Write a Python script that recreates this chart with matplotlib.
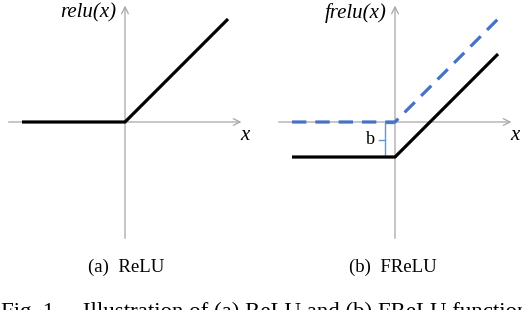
import matplotlib
matplotlib.use('Agg')
import matplotlib.pyplot as plt
import numpy as np

# input points (unit = slope-1 segment length)
x_pts = [-1.0, 0.0, 1.0]
relu_y = [0.0, 0.0, 1.0]
b_shift = 0.34
frelu_y = [v - b_shift for v in relu_y]

panel_labels = ['relu(x)', 'frelu(x)']
captions = ['(a)  ReLU', '(b)  FReLU']
fig_caption = 'Fig. 1.    Illustration of (a) ReLU and (b) FReLU functions'

W, H = 522, 310
unit = 103.0
blue = '#4472C4'
grey = '#A6A6A6'


def make_axes(fig, px0, px1, ox, oy, py1=250):
    # axes covering pixel columns px0..px1 and rows 0..py1, origin at (ox, oy)
    ax = fig.add_axes([px0 / W, 1 - py1 / H, (px1 - px0) / W, py1 / H])
    ax.set_xlim((px0 - ox) / unit, (px1 - ox) / unit)
    ax.set_ylim((oy - py1) / unit, oy / unit)
    ax.axis('off')
    return ax


def draw_axes_arrows(ax, ext=1.13):
    ap = dict(arrowstyle='->', color=grey, lw=0.9, mutation_scale=12,
              shrinkA=0, shrinkB=0)
    ax.annotate('', xy=(ext, 0), xytext=(-ext, 0), arrowprops=ap, zorder=1)
    ax.annotate('', xy=(0, ext), xytext=(0, -ext), arrowprops=ap, zorder=1)


def main():
    plt.rcParams['font.family'] = ['Liberation Serif', 'DejaVu Serif']
    fig = plt.figure(figsize=(W / 100, H / 100), dpi=100)

    # (a) ReLU
    ax1 = make_axes(fig, 0, 260, 125, 122)
    draw_axes_arrows(ax1)
    ax1.plot(x_pts, relu_y, color='black', lw=2.3, solid_capstyle='butt',
             solid_joinstyle='miter', zorder=5)
    ax1.text(-0.08, 1.06, panel_labels[0], ha='right', va='center',
             fontsize=15, style='italic')
    ax1.text(1.16, -0.13, 'x', ha='center', va='center', fontsize=15,
             style='italic')

    # (b) FReLU
    ax2 = make_axes(fig, 260, 522, 395, 122)
    draw_axes_arrows(ax2)
    ax2.plot(x_pts, frelu_y, color='black', lw=2.3, solid_capstyle='butt',
             solid_joinstyle='miter', zorder=5)
    ax2.plot(x_pts, relu_y, color=blue, lw=2.3, ls=(0, (4.5, 2.8)),
             dash_capstyle='butt', zorder=6)
    ax2.text(-0.08, 1.06, panel_labels[1], ha='right', va='center',
             fontsize=15, style='italic')
    ax2.text(1.16, -0.13, 'x', ha='center', va='center', fontsize=15,
             style='italic')
    # brace for b
    bx = -0.1
    ax2.plot([-0.02, bx, bx, -0.02], [-0.01, -0.01, -b_shift + 0.01,
             -b_shift + 0.01], color='#5B9BD5', lw=1.0, zorder=4)
    ax2.plot([bx - 0.06, bx], [-b_shift / 2, -b_shift / 2], color='#5B9BD5',
             lw=1.0, zorder=4)
    ax2.text(bx - 0.09, -b_shift / 2, 'b', ha='right', va='center',
             fontsize=13)

    fig.text(126 / W, 1 - 267 / H, captions[0], ha='center', va='center',
             fontsize=13.5)
    fig.text(393 / W, 1 - 267 / H, captions[1], ha='center', va='center',
             fontsize=13.5)
    fig.text(1 / W, 1 - 302 / H, fig_caption, ha='left', va='top',
             fontsize=16.5)

    fig.savefig('out.png', dpi=100)


if __name__ == '__main__':
    main()
